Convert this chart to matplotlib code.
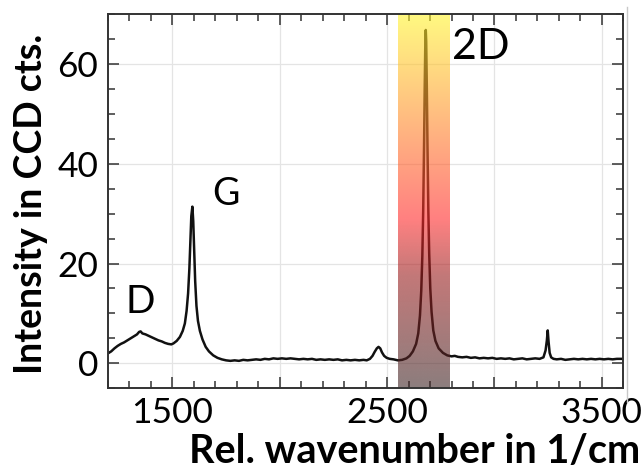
import numpy as np
import matplotlib
matplotlib.use("Agg")
import matplotlib.pyplot as plt
from matplotlib.lines import Line2D

plt.rcParams['font.family'] = ['Lato', 'DejaVu Sans']

# ---- data (Raman spectrum) ----
wavenumber = [
    1200, 1215, 1230, 1245, 1260, 1275, 1290, 1305, 1320, 1335, 1345, 1352, 1360,
    1375, 1390, 1405, 1420, 1435, 1450, 1465, 1480, 1495, 1505, 1520, 1535, 1548,
    1558, 1566, 1573, 1579, 1584, 1588, 1593, 1597, 1601, 1606, 1612, 1619, 1628,
    1640, 1655, 1670, 1690, 1710, 1730, 1750, 1770, 1790, 1810, 1830, 1850, 1870,
    1890, 1910, 1930, 1950, 1970, 1990, 2010, 2030, 2050, 2070, 2090, 2110, 2130,
    2150, 2170, 2190, 2210, 2230, 2250, 2270, 2290, 2310, 2330, 2350, 2370, 2390,
    2405, 2420, 2432, 2442, 2452, 2460, 2468, 2476, 2486, 2498, 2512, 2530, 2550,
    2570, 2590, 2605, 2620, 2635, 2645, 2653, 2659, 2664, 2668, 2672, 2675, 2678,
    2680, 2682, 2685, 2688, 2692, 2696, 2701, 2707, 2715, 2725, 2740, 2760, 2780,
    2800, 2815, 2830, 2850, 2870, 2890, 2910, 2930, 2950, 2970, 2990, 3010, 3030,
    3050, 3070, 3090, 3110, 3130, 3150, 3170, 3190, 3210, 3228, 3238, 3244, 3248,
    3252, 3257, 3264, 3275, 3290, 3310, 3330, 3350, 3370, 3390, 3410, 3430, 3450,
    3470, 3490, 3510, 3530, 3550, 3570, 3600]
intensity = [
    2.0, 2.4, 3.0, 3.5, 3.9, 4.2, 4.6, 5.0, 5.4, 5.8, 6.3, 6.4, 6.0,
    5.8, 5.5, 5.2, 4.9, 4.6, 4.4, 4.1, 3.9, 3.8, 4.0, 4.5, 5.3, 6.5,
    8.0, 10.5, 14.0, 19.0, 25.0, 29.5, 31.4, 28.5, 23.0, 16.5, 11.5, 8.5, 6.5,
    4.8, 3.3, 2.4, 1.6, 1.1, 0.8, 0.6, 0.5, 0.6, 0.5, 0.7, 0.6, 0.7,
    0.8, 0.7, 0.9, 0.8, 1.0, 0.9, 1.0, 0.9, 1.0, 0.9, 0.8, 0.9, 0.8,
    0.9, 0.7, 0.8, 0.7, 0.8, 0.7, 0.8, 0.6, 0.7, 0.6, 0.7, 0.6, 0.7,
    0.6, 0.9, 1.5, 2.3, 3.0, 3.3, 3.0, 2.2, 1.5, 1.1, 0.9, 0.8, 0.6,
    0.7, 1.0, 1.5, 2.4, 3.9, 6.0, 9.6, 14.6, 21.5, 30.5, 43.5, 55.0, 64.5,
    66.8, 64.5, 55.0, 43.5, 30.5, 22.0, 15.0, 10.3, 6.6, 4.5, 3.0, 2.1, 1.6,
    1.4, 1.5, 1.3, 1.2, 1.3, 1.1, 1.2, 1.0, 1.1, 1.0, 1.1, 0.9, 1.0,
    0.9, 1.0, 0.8, 0.9, 1.0, 0.8, 0.9, 1.0, 0.9, 1.2, 2.6, 4.6, 6.6,
    4.3, 2.1, 1.2, 0.9, 0.8, 0.9, 0.7, 0.8, 0.9, 0.8, 0.9, 0.8, 0.9,
    0.8, 0.9, 0.8, 0.9, 0.8, 0.9, 0.9]

x_major = [1500, 2000, 2500, 3000, 3500]
x_labels = ["1500", "", "2500", "", "3500"]
y_major = [0, 20, 40, 60]
y_labels = ["0", "20", "40", "60"]

band_range = (2550, 2790)
peak_labels = ["D", "G", "2D"]
peak_label_x = [1350, 1750, 2800]
peak_label_y = [12.2, 34.0, 63.3]

# ---- figure ----
W, H = 644, 469
fig = plt.figure(figsize=(W / 100, H / 100), dpi=100)
ax = fig.add_axes([108 / W, 1 - 388.3 / H, (623.3 - 108) / W, (388.3 - 14) / H])

xlim = (1200, 3600)
ylim = (-5, 70)
ax.set_xlim(*xlim)
ax.set_ylim(*ylim)

ax.plot(wavenumber, intensity, color='#111111', lw=1.8, zorder=2.1,
        solid_joinstyle='round')

# gradient band (semi-transparent, drawn over the spectrum)
stops = [(0.0, (140, 125, 125)), (0.3, (195, 120, 120)), (0.45, (255, 128, 128)),
         (0.65, (255, 172, 128)), (1.0, (255, 250, 128))]
alpha = 0.6
n = 300
pos = np.linspace(0, 1, n)
obs = np.zeros((n, 3))
sp = np.array([s[0] for s in stops])
sc = np.array([s[1] for s in stops], dtype=float)
for c in range(3):
    obs[:, c] = np.interp(pos, sp, sc[:, c])
col = (obs - (1 - alpha) * 255) / alpha
col = np.clip(col, 0, 255) / 255.0
img = np.ones((n, 1, 4))
img[:, 0, :3] = col
img[:, 0, 3] = alpha
ax.imshow(img, extent=[band_range[0], band_range[1], ylim[0], ylim[1]],
          origin='lower', aspect='auto', zorder=2.2, interpolation='bilinear')
ax.set_xlim(*xlim)
ax.set_ylim(*ylim)

# ticks
ax.set_xticks(x_major)
ax.set_xticklabels(x_labels)
ax.set_xticks(np.arange(1200, 3601, 100), minor=True)
ax.set_yticks(y_major)
ax.set_yticklabels(y_labels)
ax.set_yticks(np.arange(-5, 71, 5), minor=True)
ax.tick_params(which='both', direction='in', top=True, right=True,
               color='#333333', width=1.1, labelsize=25.5, labelcolor='black')
ax.tick_params(which='major', length=8)
ax.tick_params(which='minor', length=5)
ax.tick_params(axis='y', pad=7)
ax.tick_params(axis='x', pad=6)
ax.grid(which='major', color='#e4e4e4', lw=0.9)
for s in ax.spines.values():
    s.set_color('#333333')
    s.set_linewidth(1.4)

# peak labels
sizes = [28, 27, 31]
for lab, lx, ly, fs in zip(peak_labels, peak_label_x, peak_label_y, sizes):
    ax.text(lx, ly, lab, fontsize=fs, ha='center' if lab != '2D' else 'left',
            va='center', color='black', zorder=5)

# axis labels
fig.text(640 / W, 1 - 463 / H, "Rel. wavenumber in 1/cm", fontsize=28.5,
         fontweight='bold', ha='right', va='baseline')
fig.text(42 / W, 1 - 203.5 / H, "Intensity in CCD cts.", fontsize=27,
         fontweight='bold', ha='center', va='baseline', rotation=90,
         rotation_mode='anchor')

fig.add_artist(Line2D([627 / W, 627 / W], [1 - 7 / H, 1 - 402 / H],
                      color='#c8c8c8', lw=1))

fig.savefig("out.png", dpi=100)
